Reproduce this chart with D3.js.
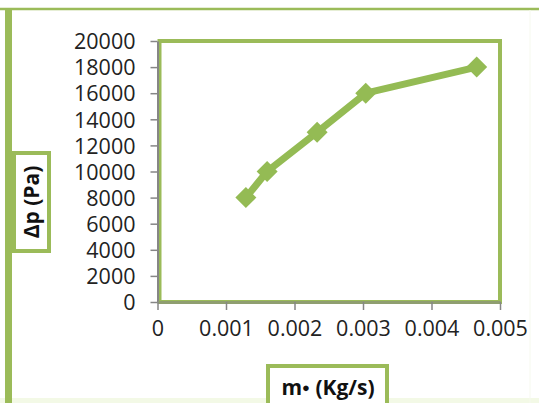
<!DOCTYPE html>
<html>
<head>
<meta charset="utf-8">
<script src="https://cdn.jsdelivr.net/npm/d3@7"></script>
<style>
  html, body { margin: 0; padding: 0; background: #ffffff; }
  svg { display: block; }
</style>
</head>
<body>
<div id="chart"></div>
<script>
// Pressure drop versus mass flow rate
const massFlow = [0.00129, 0.0016, 0.00233, 0.00304, 0.00466];
const pressureDrop = [8000, 10000, 13000, 16000, 18000];
const xTicks = [0, 0.001, 0.002, 0.003, 0.004, 0.005];
const yTicks = [0, 2000, 4000, 6000, 8000, 10000, 12000, 14000, 16000, 18000, 20000];
const xTitle = "m\u25CF (Kg/s)";
const yTitle = "\u0394p (Pa)";

const W = 539, H = 403;
const green = "#94bb54";
const frameGreen = "#9bbb59";
const axisGrey = "#868686";
const font = "'Open Sans', 'Liberation Sans', sans-serif";

const svg = d3.select("#chart").append("svg")
  .attr("width", W).attr("height", H);

// outer chart border
svg.append("rect").attr("x", 0).attr("y", 0).attr("width", W).attr("height", H).attr("fill", "#ffffff");
svg.append("rect").attr("x", 0).attr("y", 398).attr("width", W).attr("height", 5).attr("fill", "#f3f9e6");
svg.append("line").attr("x1", 0).attr("x2", W).attr("y1", 9).attr("y2", 9)
  .attr("stroke", frameGreen).attr("stroke-width", 2.5);
svg.append("line").attr("x1", 8.5).attr("x2", 8.5).attr("y1", 8).attr("y2", H)
  .attr("stroke", frameGreen).attr("stroke-width", 7);
svg.append("line").attr("x1", 530).attr("x2", 530).attr("y1", 10).attr("y2", H)
  .attr("stroke", "#f6f9ee").attr("stroke-width", 1);

const x = d3.scaleLinear().domain([0, 0.005]).range([157.5, 500]);
const y = d3.scaleLinear().domain([0, 20000]).range([302, 41]);

// plot area frame
svg.append("rect")
  .attr("x", x(0) + 2).attr("y", y(20000))
  .attr("width", x(0.005) - x(0) - 2).attr("height", y(0) - y(20000))
  .attr("fill", "none").attr("stroke", frameGreen).attr("stroke-width", 4);

// y axis
const yAxis = svg.append("g").attr("transform", `translate(${x(0)},0)`)
  .call(d3.axisLeft(y).tickValues(yTicks).tickSize(7).tickSizeOuter(0).tickFormat(d3.format("d")));
yAxis.select(".domain").attr("stroke", axisGrey).attr("stroke-width", 2);
yAxis.selectAll(".tick line").attr("stroke", axisGrey).attr("stroke-width", 1.5);
yAxis.selectAll(".tick text")
  .attr("x", -22).attr("dy", "0.36em")
  .attr("fill", "#222").style("font-family", font).style("font-size", "21.5px");

// x axis
const xAxis = svg.append("g").attr("transform", `translate(0,${y(0)})`)
  .call(d3.axisBottom(x).tickValues(xTicks).tickSize(8).tickSizeOuter(0)
    .tickFormat(d => d === 0 ? "0" : d3.format(".3f")(d)));
xAxis.select(".domain").attr("stroke", "#8f9e70").attr("stroke-width", 3);
xAxis.selectAll(".tick line").attr("stroke", axisGrey).attr("stroke-width", 1.5);
xAxis.selectAll(".tick text")
  .attr("y", 26).attr("dy", "0.36em")
  .attr("fill", "#222").style("font-family", font).style("font-size", "21.5px");

// data line and markers
const pts = massFlow.map((m, i) => [m, pressureDrop[i]]);
svg.append("path")
  .datum(pts)
  .attr("fill", "none").attr("stroke", green).attr("stroke-width", 7)
  .attr("stroke-linejoin", "round")
  .attr("d", d3.line().x(d => x(d[0])).y(d => y(d[1])));

const r = 10.5;
svg.selectAll("path.marker").data(pts).enter().append("path")
  .attr("class", "marker")
  .attr("d", d => {
    const cx = x(d[0]), cy = y(d[1]);
    return `M${cx},${cy - r}L${cx + r},${cy}L${cx},${cy + r}L${cx - r},${cy}Z`;
  })
  .attr("fill", green);

// y axis title box
svg.append("rect").attr("x", 14).attr("y", 153).attr("width", 35).attr("height", 98)
  .attr("fill", "#ffffff").attr("stroke", frameGreen).attr("stroke-width", 4);
svg.append("text")
  .attr("transform", "translate(39,202) rotate(-90)")
  .attr("text-anchor", "middle")
  .style("font-family", font).style("font-size", "21px").style("font-weight", "bold")
  .attr("fill", "#111").text(yTitle);

// x axis title box
svg.append("rect").attr("x", 268).attr("y", 366).attr("width", 119).attr("height", 50)
  .attr("fill", "#ffffff").attr("stroke", frameGreen).attr("stroke-width", 4);
svg.append("text")
  .attr("x", 328).attr("y", 395)
  .attr("text-anchor", "middle")
  .style("font-family", font).style("font-size", "21px").style("font-weight", "bold")
  .attr("fill", "#111")
  .text("m")
  .append("tspan").style("font-size", "13px").attr("dy", "-3").text("\u25CF")
  .append("tspan").style("font-size", "21px").attr("dy", "3").text(" (Kg/s)");
</script>
</body>
</html>
